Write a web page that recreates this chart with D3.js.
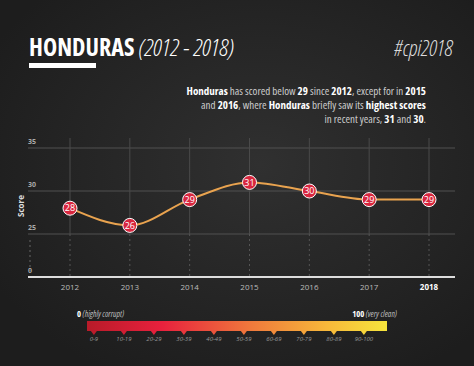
<!DOCTYPE html>
<html>
<head>
<meta charset="utf-8">
<script src="https://cdn.jsdelivr.net/npm/d3@7"></script>
<style>
  body { margin: 0; background: #222; }
  svg { display: block; }
  .cond { font-family: "Open Sans", "Liberation Sans Narrow", sans-serif; font-stretch: condensed; }
</style>
</head>
<body>
<div id="chart"></div>
<script>
// data
var years = ["2012", "2013", "2014", "2015", "2016", "2017", "2018"];
var scores = [28, 26, 29, 31, 30, 29, 29];
var yTicks = [0, 25, 30, 35];
var legendLabels = ["0-9", "10-19", "20-29", "30-39", "40-49", "50-59", "60-69", "70-79", "80-89", "90-100"];

var svgWidth = 474;
var svgHeight = 366;

var svg = d3.select("#chart")
    .append("svg")
    .attr("width", svgWidth)
    .attr("height", svgHeight);

var defs = svg.append("defs");

// background
var bg = defs.append("radialGradient").attr("id", "bg")
    .attr("cx", "55%").attr("cy", "45%").attr("r", "65%");
bg.append("stop").attr("offset", "0%").attr("stop-color", "#303030");
bg.append("stop").attr("offset", "100%").attr("stop-color", "#1d1d1d");
svg.append("rect").attr("width", svgWidth).attr("height", svgHeight).attr("fill", "url(#bg)");

// header
var title = svg.append("text").attr("class", "cond")
    .attr("x", 29).attr("y", 56)
    .attr("fill", "#fff").attr("font-size", 24);
title.append("tspan").attr("font-weight", 700).text("HONDURAS ");
title.append("tspan").attr("font-style", "italic").attr("font-weight", 300).text("(2012 - 2018)");

svg.append("rect").attr("x", 29).attr("y", 63).attr("width", 67).attr("height", 5).attr("fill", "#fff");

svg.append("text").attr("class", "cond")
    .attr("x", 453).attr("y", 56).attr("text-anchor", "end")
    .attr("fill", "#ddd").attr("font-size", 22)
    .attr("font-style", "italic").attr("font-weight", 300)
    .text("#cpi2018");

var para = [
    [["Honduras", 1], [" has scored below ", 0], ["29", 1], [" since ", 0], ["2012", 1], [", except for in ", 0], ["2015", 1]],
    [["and ", 0], ["2016", 1], [", where ", 0], ["Honduras", 1], [" briefly saw its ", 0], ["highest scores", 1]],
    [["in recent years, ", 0], ["31", 1], [" and ", 0], ["30", 1], [".", 0]]
];
para.forEach(function (line, i) {
    var t = svg.append("text").attr("class", "cond")
        .attr("x", 426).attr("y", 95 + i * 14)
        .attr("text-anchor", "end").attr("font-size", 11);
    line.forEach(function (p) {
        t.append("tspan")
            .attr("fill", p[1] ? "#fff" : "#ccc")
            .attr("font-weight", p[1] ? 700 : 400)
            .text(p[0]);
    });
});

// chart
var xScale = d3.scalePoint().domain(years).range([70, 429]);
var yScale = d3.scaleLinear().domain([0, 25, 35]).range([277, 234, 148]);

var grid = svg.append("g");
// horizontal gridlines
grid.selectAll("line.h")
    .data(yTicks.filter(d => d > 0))
    .enter().append("line")
    .attr("x1", 28).attr("x2", 455)
    .attr("y1", d => yScale(d)).attr("y2", d => yScale(d))
    .attr("stroke", "#505050").attr("stroke-width", 1);

// vertical gridlines
grid.selectAll("line.v")
    .data(years)
    .enter().append("line")
    .attr("x1", d => xScale(d)).attr("x2", d => xScale(d))
    .attr("y1", 138).attr("y2", yScale(25))
    .attr("stroke", "#4a4a4a").attr("stroke-width", 1);

grid.selectAll("line.vd")
    .data(years)
    .enter().append("line")
    .attr("x1", d => xScale(d)).attr("x2", d => xScale(d))
    .attr("y1", yScale(25)).attr("y2", yScale(0))
    .attr("stroke", "#555").attr("stroke-width", 1)
    .attr("stroke-dasharray", "2,3");

grid.append("line")
    .attr("x1", 30).attr("x2", 30)
    .attr("y1", yScale(25) + 6).attr("y2", yScale(0) - 6)
    .attr("stroke", "#666").attr("stroke-dasharray", "2,3");

// baseline
grid.append("line")
    .attr("x1", 28).attr("x2", 455)
    .attr("y1", yScale(0)).attr("y2", yScale(0))
    .attr("stroke", "#ddd").attr("stroke-width", 2);

// y tick labels
svg.selectAll("text.ytick")
    .data(yTicks)
    .enter().append("text")
    .attr("x", 28).attr("y", d => yScale(d) - 4)
    .attr("font-family", "Open Sans, sans-serif").attr("font-size", 7)
    .attr("font-weight", 700).attr("fill", "#aaa")
    .text(d => d);

svg.append("text")
    .attr("transform", "translate(24, 206) rotate(-90)")
    .attr("text-anchor", "middle")
    .attr("font-family", "Open Sans, sans-serif").attr("font-size", 8)
    .attr("font-weight", 700).attr("fill", "#ddd")
    .text("Score");

// x labels
svg.selectAll("text.xtick")
    .data(years)
    .enter().append("text")
    .attr("x", d => xScale(d)).attr("y", 290)
    .attr("text-anchor", "middle")
    .attr("font-family", "Open Sans, sans-serif").attr("font-size", 8)
    .attr("font-weight", d => d === "2018" ? 700 : 400)
    .attr("fill", d => d === "2018" ? "#fff" : "#bbb")
    .text(d => d);

// line
var line = d3.line()
    .x((d, i) => xScale(years[i]))
    .y(d => yScale(d))
    .curve(d3.curveMonotoneX);

svg.append("path")
    .datum(scores)
    .attr("d", line)
    .attr("fill", "none")
    .attr("stroke", "#e9a34f")
    .attr("stroke-width", 2);

// points
var pts = svg.selectAll("g.pt")
    .data(scores)
    .enter().append("g")
    .attr("transform", (d, i) => `translate(${xScale(years[i])}, ${yScale(d)})`);

pts.append("circle")
    .attr("r", 7)
    .attr("fill", "#d8263e")
    .attr("stroke", "#fff").attr("stroke-width", 1);

pts.append("text")
    .attr("text-anchor", "middle").attr("dy", "0.35em")
    .attr("font-family", "Open Sans, sans-serif").attr("font-size", 9)
    .attr("fill", "#fff")
    .text(d => d);

// legend
var lx = d3.scaleLinear().domain([0, 100]).range([87, 387]);
var grad = defs.append("linearGradient").attr("id", "cpi");
grad.append("stop").attr("offset", "0%").attr("stop-color", "#b81b29");
grad.append("stop").attr("offset", "25%").attr("stop-color", "#e8213d");
grad.append("stop").attr("offset", "55%").attr("stop-color", "#ef7a3c");
grad.append("stop").attr("offset", "80%").attr("stop-color", "#f7b83a");
grad.append("stop").attr("offset", "100%").attr("stop-color", "#f6e53c");

svg.append("rect")
    .attr("x", lx(0)).attr("y", 321)
    .attr("width", lx(100) - lx(0)).attr("height", 10)
    .attr("fill", "url(#cpi)");

var colorAt = d3.scaleLinear()
    .domain([0, 25, 55, 80, 100])
    .range(["#b81b29", "#e8213d", "#ef7a3c", "#f7b83a", "#f6e53c"]);

var marks = svg.selectAll("g.mk")
    .data(legendLabels)
    .enter().append("g")
    .attr("transform", (d, i) => `translate(${lx(i * 10 + 2.3)}, 331)`);

marks.append("path")
    .attr("d", "M-3,0 L3,0 L0,4 Z")
    .attr("fill", (d, i) => colorAt(i * 10 + 2.3));

marks.append("text")
    .attr("y", 10).attr("text-anchor", "middle")
    .attr("font-family", "Open Sans, sans-serif").attr("font-size", 6)
    .attr("font-style", "italic").attr("fill", "#999")
    .text(d => d);

var l0 = svg.append("text").attr("class", "cond")
    .attr("x", 77).attr("y", 317).attr("font-size", 8.5);
l0.append("tspan").attr("font-weight", 700).attr("fill", "#fff").text("0 ");
l0.append("tspan").attr("font-style", "italic").attr("fill", "#bbb").text("(highly corrupt)");

var l1 = svg.append("text").attr("class", "cond")
    .attr("x", 397).attr("y", 317).attr("text-anchor", "end").attr("font-size", 8.5);
l1.append("tspan").attr("font-weight", 700).attr("fill", "#fff").text("100 ");
l1.append("tspan").attr("font-style", "italic").attr("fill", "#bbb").text("(very clean)");
</script>
</body>
</html>
